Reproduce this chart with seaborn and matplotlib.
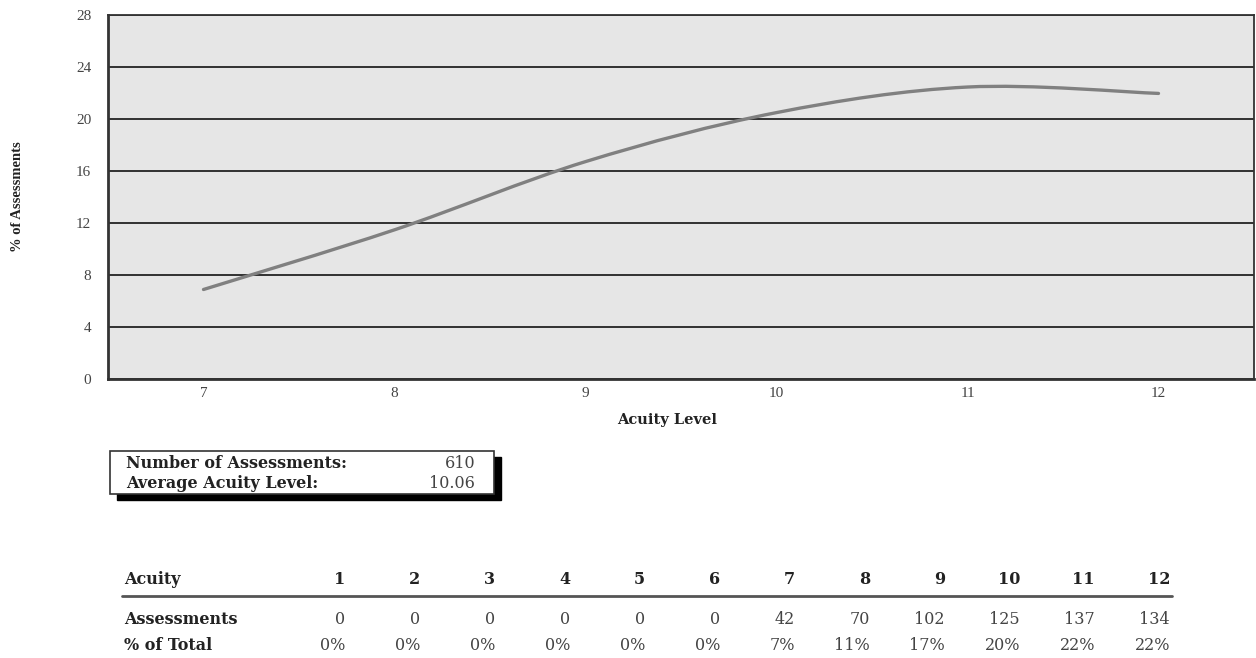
import matplotlib
matplotlib.use("Agg")
import matplotlib.pyplot as plt
import seaborn as sns
from matplotlib.path import Path
from matplotlib.patches import PathPatch, Rectangle

# Data
acuity = [1, 2, 3, 4, 5, 6, 7, 8, 9, 10, 11, 12]
assessments = [0, 0, 0, 0, 0, 0, 42, 70, 102, 125, 137, 134]
pct_labels = ["0%", "0%", "0%", "0%", "0%", "0%", "7%", "11%", "17%", "20%", "22%", "22%"]
total_assessments = 610
avg_acuity = "10.06"
y_ticks = [0, 4, 8, 12, 16, 20, 24, 28]

# Curve only over the acuity levels that have assessments
curve_x = [a for a, n in zip(acuity, assessments) if n > 0]
curve_y = [n / total_assessments * 100 for n in assessments if n > 0]

sns.set_style("white")
plt.rcParams['font.family'] = ['Liberation Serif', 'DejaVu Serif']
WIDE = ['DejaVu Serif']

W, H = 1256, 658
fig = plt.figure(figsize=(W / 100, H / 100), dpi=100)


def px(x, y):
    return x / W, 1 - y / H


ax = fig.add_axes([108 / W, 1 - 379 / H, (1254 - 108) / W, (379 - 15) / H])
ax.set_facecolor('#e6e6e6')

# smoothed line (Bezier through the points, like a spreadsheet "smooth line")
verts = [(curve_x[0], curve_y[0])]
codes = [Path.MOVETO]
n = len(curve_x)
for i in range(n - 1):
    p0 = (curve_x[max(i - 1, 0)], curve_y[max(i - 1, 0)])
    p1 = (curve_x[i], curve_y[i])
    p2 = (curve_x[i + 1], curve_y[i + 1])
    p3 = (curve_x[min(i + 2, n - 1)], curve_y[min(i + 2, n - 1)])
    c1 = (p1[0] + (p2[0] - p0[0]) / 6, p1[1] + (p2[1] - p0[1]) / 6)
    c2 = (p2[0] - (p3[0] - p1[0]) / 6, p2[1] - (p3[1] - p1[1]) / 6)
    verts += [c1, c2, p2]
    codes += [Path.CURVE4] * 3
ax.add_patch(PathPatch(Path(verts, codes), fill=False, edgecolor='#808080',
                       linewidth=2.4, capstyle='round', zorder=3))

ax.set_xlim(6.5, 12.5)
ax.set_ylim(0, 28)
ax.set_xticks(curve_x)
ax.set_yticks(y_ticks)
ax.yaxis.grid(True, color='black', linewidth=1.1)
ax.xaxis.grid(False)
ax.set_axisbelow(True)
for s in ax.spines.values():
    s.set_color('#333333')
    s.set_linewidth(1.3)
ax.spines['left'].set_linewidth(2)
ax.spines['bottom'].set_linewidth(2)
ax.tick_params(axis='x', direction='inout', length=9, width=1.5, color='black',
               labelsize=11, labelcolor='#444444', pad=1)
ax.tick_params(axis='y', length=0, labelsize=11, labelcolor='#444444', pad=12)
ax.set_xlabel('')
ax.set_ylabel('')

fig.text(*px(18, 197), '% of Assessments', rotation=90, ha='center', va='center',
         fontsize=10.5, fontweight='bold', color='#222222')
fig.text(*px(667, 420), 'Acuity Level', ha='center', va='center', family=WIDE,
         fontsize=10.5, fontweight='bold', color='#222222')

# summary box with shadow
bx0, by0, bx1, by1 = 110, 451, 494, 494
fig.patches.append(Rectangle(px(bx0 + 7, by1 + 6), (bx1 - bx0) / W, (by1 - by0) / H,
                             transform=fig.transFigure, facecolor='black',
                             edgecolor='black', zorder=1))
fig.patches.append(Rectangle(px(bx0, by1), (bx1 - bx0) / W, (by1 - by0) / H,
                             transform=fig.transFigure, facecolor='white',
                             edgecolor='#333333', linewidth=1.2, zorder=2))
fig.text(*px(126, 464), 'Number of Assessments:', ha='left', va='center', family=WIDE,
         fontsize=11.5, fontweight='bold', color='#222222', zorder=3)
fig.text(*px(475, 464), str(total_assessments), ha='right', va='center', family=WIDE,
         fontsize=11.5, color='#444444', zorder=3)
fig.text(*px(126, 483), 'Average Acuity Level:', ha='left', va='center', family=WIDE,
         fontsize=11.5, fontweight='bold', color='#222222', zorder=3)
fig.text(*px(475, 483), avg_acuity, ha='right', va='center', family=WIDE,
         fontsize=11.5, color='#444444', zorder=3)

# table below the chart
for label, yy in [('Acuity', 580), ('Assessments', 619), ('% of Total', 646)]:
    fig.text(*px(124, yy), label, ha='left', va='center', family=WIDE, fontsize=11.5,
             fontweight='bold', color='#222222')
for i, (a, n, p) in enumerate(zip(acuity, assessments, pct_labels)):
    xr = 345 + 75 * i
    fig.text(*px(xr, 580), str(a), ha='right', va='center', family=WIDE, fontsize=11.5,
             fontweight='bold', color='#222222')
    fig.text(*px(xr, 619), str(n), ha='right', va='center', family=WIDE, fontsize=11.5,
             color='#444444')
    fig.text(*px(xr, 646), p, ha='right', va='center', family=WIDE, fontsize=11.5,
             color='#444444')
fig.add_artist(plt.Line2D([122 / W, 1172 / W], [1 - 596 / H, 1 - 596 / H],
                          transform=fig.transFigure, color='#555555', linewidth=2))

fig.savefig('out.png', dpi=100)
